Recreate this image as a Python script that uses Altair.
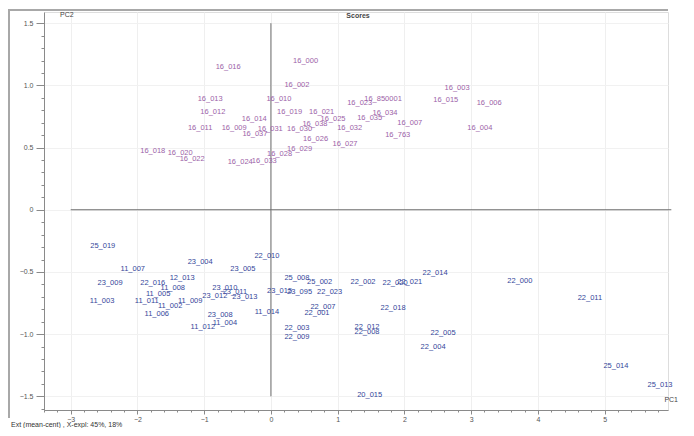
import altair as alt
import pandas as pd

# Purple (upper) sample scores
top_names = ["16_016", "16_000", "16_002", "16_013", "16_010", "16_012", "16_011", "16_009",
             "16_014", "16_019", "16_021", "16_023", "16_025", "16_030", "16_031", "16_032",
             "16_026", "16_027", "16_028", "16_029", "16_018", "16_020", "16_022", "16_024",
             "16_033", "16_850001", "16_015", "16_003", "16_006", "16_007", "16_004", "16_763",
             "16_034", "16_035", "16_037", "16_038"]
top_pc1 = [-0.64, 0.52, 0.39, -0.91, 0.12, -0.87, -1.06, -0.55,
           -0.25, 0.28, 0.76, 1.33, 0.93, 0.43, -0.01, 1.18,
           0.67, 1.11, 0.13, 0.43, -1.77, -1.36, -1.18, -0.46,
           -0.10, 1.68, 2.62, 2.79, 3.27, 2.08, 3.13, 1.90,
           1.71, 1.48, -0.24, 0.66]
top_pc2 = [1.15, 1.20, 1.00, 0.89, 0.89, 0.79, 0.66, 0.66,
           0.73, 0.79, 0.79, 0.86, 0.73, 0.65, 0.65, 0.66,
           0.57, 0.53, 0.45, 0.49, 0.47, 0.46, 0.41, 0.38,
           0.39, 0.89, 0.88, 0.98, 0.86, 0.70, 0.66, 0.60,
           0.78, 0.74, 0.61, 0.69]

# Blue (lower) sample scores
bot_names = ["25_019", "23_004", "23_005", "22_010", "11_007", "23_009", "22_016", "12_013",
             "11_003", "11_011", "11_005", "11_002", "11_009", "11_006", "23_008", "11_012",
             "11_014", "23_010", "23_011", "23_012", "23_013", "25_008", "25_002", "22_002",
             "22_020", "22_023", "23_095", "23_015", "22_007", "22_001", "22_018", "22_012",
             "22_008", "22_003", "22_009", "22_014", "22_021", "22_000", "22_005", "22_004",
             "22_011", "25_014", "25_013", "20_015", "11_004", "11_008"]
bot_pc1 = [-2.52, -1.06, -0.42, -0.06, -2.07, -2.41, -1.77, -1.33,
           -2.53, -1.86, -1.69, -1.51, -1.21, -1.71, -0.76, -1.02,
           -0.06, -0.69, -0.54, -0.84, -0.39, 0.39, 0.73, 1.38,
           1.86, 0.88, 0.43, 0.13, 0.78, 0.69, 1.83, 1.44,
           1.44, 0.39, 0.39, 2.46, 2.08, 3.73, 2.58, 2.43,
           4.78, 5.17, 5.83, 1.48, -0.69, -1.47]
bot_pc2 = [-0.29, -0.42, -0.48, -0.37, -0.48, -0.59, -0.59, -0.55,
           -0.73, -0.73, -0.68, -0.77, -0.73, -0.84, -0.85, -0.94,
           -0.82, -0.63, -0.66, -0.69, -0.70, -0.55, -0.58, -0.58,
           -0.59, -0.66, -0.66, -0.65, -0.78, -0.83, -0.79, -0.94,
           -0.98, -0.95, -1.02, -0.51, -0.58, -0.57, -0.99, -1.10,
           -0.71, -1.26, -1.41, -1.49, -0.91, -0.63]

x_ticks = [round(-3.4 + 0.2 * i, 1) for i in range(47) if -3.4 + 0.2 * i <= 5.95]
y_ticks = [round(-1.6 + 0.1 * i, 1) for i in range(33)]

df = pd.concat([
    pd.DataFrame({"name": top_names, "pc1": top_pc1, "pc2": top_pc2, "grp": "a"}),
    pd.DataFrame({"name": bot_names, "pc1": bot_pc1, "pc2": bot_pc2, "grp": "b"}),
])

xs = alt.Scale(domain=[-3.4, 5.95], nice=False, zero=False)
ys = alt.Scale(domain=[-1.61, 1.59], nice=False, zero=False)

x_axis = alt.Axis(
    values=x_ticks, tickCount=200, title=None, orient="bottom", labelOverlap=False, labelFlush=False,
    labelExpr="abs(datum.value - round(datum.value)) < 0.001 ? format(round(datum.value), 'd') : ''",
    tickSize={"condition": {"test": "abs(datum.value - round(datum.value)) < 0.001", "value": 4}, "value": 2},
    gridOpacity={"condition": {"test": "abs(datum.value - round(datum.value)) < 0.001", "value": 1}, "value": 0},
    grid=True, gridColor="#efefef", domainColor="#8a8a8a", tickColor="#8a8a8a",
    labelFontSize=7, labelColor="#555", labelFont="Liberation Sans", labelPadding=1,
)
y_axis = alt.Axis(
    values=y_ticks, tickCount=200, title=None, orient="left", labelOverlap=False, labelFlush=False,
    labelExpr="abs(datum.value*2 - round(datum.value*2)) < 0.001 ? (abs(datum.value) < 0.001 ? '0' : format(datum.value, '.1f')) : ''",
    tickSize={"condition": {"test": "abs(datum.value*2 - round(datum.value*2)) < 0.001", "value": 8}, "value": 3},
    gridOpacity={"condition": {"test": "abs(datum.value*2 - round(datum.value*2)) < 0.001", "value": 1}, "value": 0},
    grid=True, gridColor="#f1f1f1", domainColor="#8a8a8a", tickColor="#8a8a8a",
    labelFontSize=7, labelColor="#555", labelFont="Liberation Sans", labelPadding=3,
)

text = alt.Chart(df).mark_text(fontSize=7.5, font="Liberation Sans").encode(
    x=alt.X("pc1:Q", scale=xs, axis=x_axis),
    y=alt.Y("pc2:Q", scale=ys, axis=y_axis),
    text="name:N",
    color=alt.Color("grp:N", scale=alt.Scale(domain=["a", "b"], range=["#9c5fa8", "#34469a"]), legend=None),
)

vline = alt.Chart(pd.DataFrame({"x": [0], "y": [-1.5], "y2": [1.5]})).mark_rule(color="#6e6e6e", strokeWidth=1).encode(
    x=alt.X("x:Q", scale=xs, axis=x_axis), y=alt.Y("y:Q", scale=ys, axis=y_axis), y2="y2:Q")
hline = alt.Chart(pd.DataFrame({"y": [0], "x": [-3.0], "x2": [6.0]})).mark_rule(color="#6e6e6e", strokeWidth=1).encode(
    y=alt.Y("y:Q", scale=ys, axis=y_axis), x=alt.X("x:Q", scale=xs, axis=x_axis), x2="x2:Q")

# frame decorations
top_border = alt.Chart(pd.DataFrame({"a": [0]})).mark_rule(color="#a8a8a8", strokeWidth=2, clip=False).encode(
    x=alt.value(-36), x2=alt.value(624), y=alt.value(-2))
left_border = alt.Chart(pd.DataFrame({"a": [0]})).mark_rule(color="#a8a8a8", strokeWidth=2, clip=False).encode(
    x=alt.value(-35), y=alt.value(-2), y2=alt.value(406))

title_t = alt.Chart(pd.DataFrame({"t": ["Scores"]})).mark_text(fontSize=7, font="Liberation Sans", color="#444", fontWeight="bold").encode(
    x=alt.value(314), y=alt.value(4), text="t:N")
pc2_t = alt.Chart(pd.DataFrame({"t": ["PC2"]})).mark_text(fontSize=7, font="Liberation Sans", color="#444", align="left").encode(
    x=alt.value(16), y=alt.value(3), text="t:N")
pc1_t = alt.Chart(pd.DataFrame({"t": ["PC1"]})).mark_text(fontSize=7, font="Liberation Sans", color="#444", align="right").encode(
    x=alt.value(634), y=alt.value(388), text="t:N")
foot_t = alt.Chart(pd.DataFrame({"t": ["Ext (mean-cent) ,  X-expl: 45%, 18%"]})).mark_text(
    fontSize=7, font="Liberation Sans", color="#333", align="left", baseline="bottom").encode(
    x=alt.value(-33), y=alt.value(416), text="t:N")

chart = alt.layer(vline, hline, text, top_border, left_border, title_t, pc2_t, pc1_t, foot_t).properties(
    width=624, height=398,
    autosize=alt.AutoSizeParams(type="none"),
    padding={"left": 36, "top": 4, "right": 18, "bottom": 18},
).configure_view(stroke=None).configure(background="white")

chart.save("out.html", embed_options={"renderer": "svg", "actions": False})
